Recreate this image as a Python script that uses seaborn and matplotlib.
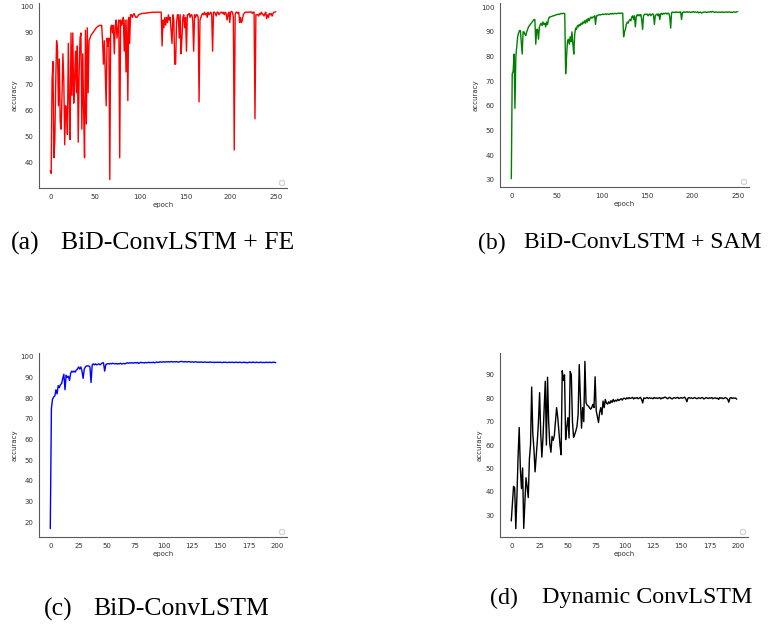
import numpy as np
import pandas as pd
import matplotlib
matplotlib.use("Agg")
import matplotlib.pyplot as plt
from matplotlib.ticker import MultipleLocator
import seaborn as sns

# ---------------- data (accuracy per epoch) ----------------
acc_fe = [
    37, 36, 72, 79, 42, 48, 70, 87, 84, 62,
    80, 56, 53, 66, 82, 72, 47, 62, 61, 51,
    86, 64, 49, 90, 66, 90, 63, 72, 83, 67,
    85, 48, 74, 88, 90, 53, 82, 60, 42, 91,
    55, 92, 67, 87, 88, 89, 89.5, 90, 90.5, 91,
    91.5, 92, 92.3, 92.6, 92.8, 93, 92.8, 93, 87, 78,
    87, 74, 62, 88, 85, 88, 33.6, 92, 93, 90,
    93, 82, 92, 95, 88, 92, 95, 42, 95, 93,
    94, 96, 83, 95, 75, 95, 64, 96, 86, 97,
    97, 96, 97, 97.5, 96.5, 96, 96, 96.5, 97, 97.2,
    97.3, 97.4, 97.5, 97.5, 97.6, 97.5, 97.7, 97.6, 97.8, 97.8,
    97.8, 97.9, 97.9, 98, 98, 98, 97.9, 98, 98, 98,
    98, 98, 98, 98, 85, 95, 92, 96, 93, 96,
    94, 97, 95, 96, 91, 86, 97, 95, 78, 78,
    94, 97, 97, 88, 97, 82, 88, 96, 97, 92,
    96, 83, 97, 97, 97.5, 96, 97, 97, 95, 83,
    97, 96, 97, 97, 96, 63.5, 95, 96, 97, 97.5,
    97, 98, 97, 97.5, 96, 98, 97, 97.5, 98, 97,
    83, 98, 98, 97.5, 96.5, 98, 98, 97, 97.5, 98,
    98, 97.5, 98, 97, 98, 97.5, 95, 97, 98, 94,
    98, 98.3, 98, 96, 45, 97, 98, 98, 97.5, 98,
    94, 96, 94, 95, 97, 97.5, 98, 98, 98, 98,
    98, 98, 98.2, 98, 97.5, 98, 98, 57, 97, 97,
    97, 96.5, 97.5, 97, 98, 97.5, 97, 96.5, 97.5, 98,
    95.5, 97, 96, 97.5, 97, 97.5, 96.5, 97.5, 98, 98,
    98.2,
]

acc_sam = [
    30.5, 73, 74, 81, 59, 80, 84, 88, 89.5, 90.5,
    90.5, 86, 81, 90, 90, 89, 88.5, 90, 91, 92,
    92.5, 93, 93.5, 94, 94.5, 95, 95, 85, 91, 91,
    87, 92, 93, 93.5, 92.5, 94, 93, 93.5, 92, 94,
    93, 95, 96, 96, 96.2, 96.3, 96.5, 96.5, 96.7, 96.8,
    97, 97, 97.2, 97, 97.3, 97.5, 97.3, 97.5, 97.5, 97.4,
    73, 80, 86, 87, 85, 88, 86, 90, 85, 81,
    89, 91.5, 91, 92.5, 92, 93, 92.5, 93.5, 93, 94,
    93.5, 94.5, 93.5, 95, 94, 95.5, 94.5, 95.5, 96, 95.5,
    96, 96, 96.5, 93, 96.5, 96.5, 96.8, 97, 96.8, 97,
    97, 97.2, 97, 97.2, 97.3, 97, 97.3, 97.2, 97, 97.3,
    97.4, 97.2, 97.5, 97.3, 97.4, 97.5, 97.3, 97.5, 97.5, 97.6,
    97.4, 97.6, 97.5, 97.6, 88, 90, 91, 93, 94, 93.5,
    94.5, 95, 94.5, 96, 96.5, 95, 96.5, 92, 96, 97,
    96.5, 97, 96.5, 97, 95, 91, 96.5, 97, 97.2, 97,
    97.2, 96.5, 97, 97.3, 96.5, 97, 97.3, 97, 93, 96.5,
    97, 97.2, 96.5, 97.3, 95, 97.3, 97.5, 97, 97.5, 97.3,
    97.6, 97.5, 97.2, 97.6, 97.5, 96, 91.5, 97.8, 98, 97.8,
    98, 97.8, 98.1, 97.9, 98, 97.8, 98, 98.1, 95, 97.8,
    98, 98.1, 97.9, 98, 98.2, 97.9, 98, 98.1, 97.8, 98,
    98, 98.2, 97.9, 98.1, 98, 97.9, 98.1, 97.7, 97.9, 98,
    97.6, 97.8, 98, 97.9, 98.1, 98, 97.8, 98, 98.1, 98,
    98.2, 98, 98.3, 98.1, 98, 97.9, 98.1, 98, 97.8, 98,
    98, 97.9, 98, 98.1, 97.8, 98, 97.9, 98, 98.1, 97.9,
    98, 98.1, 97.9, 98, 97.8, 98, 98.1, 97.9, 98, 98.1,
    98.2,
]

acc_bid = [
    17, 75, 79.5, 80.5, 81, 84, 82, 86, 85, 86.5,
    87, 89.5, 91.5, 84, 91, 90, 90.5, 88.5, 92, 93,
    92.5, 93, 92.5, 93.5, 94, 95, 94, 95, 93, 89.5,
    94, 95, 95.5, 95.5, 95.5, 95, 87.5, 96, 96.5, 96,
    96.5, 96, 96.3, 96.5, 96, 96.5, 97, 97, 93, 96,
    96.5, 96.6, 96.4, 96.7, 96.5, 96.8, 96.6, 96.5, 96.7, 96.4,
    96.6, 96.5, 96.8, 96.4, 96.6, 96.7, 96.5, 96.8, 97, 96.8,
    97, 96.9, 97.1, 96.8, 97, 97.1, 96.9, 97.2, 96.7, 97,
    97.3, 97, 97.1, 96.9, 97.2, 97, 97.1, 97.3, 97, 97.2,
    97.1, 97.3, 97, 97.2, 97.4, 97.2, 97.3, 97.5, 97.3, 97.4,
    97.5, 97.3, 97.5, 97.4, 97.6, 97.4, 97.5, 97.6, 97.4, 97.5,
    97.4, 97.6, 97.5, 97.3, 97.5, 97.6, 97.7, 97.5, 97.4, 97.6,
    97.5, 97.4, 97.6, 97.5, 97.3, 97.5, 97.4, 97.3, 97.5, 97.4,
    97.3, 97.4, 97.2, 97.4, 97.3, 97.2, 97.4, 97.3, 97.2, 97.3,
    97.2, 97.4, 97.3, 97.2, 97.3, 97.1, 97.3, 97.2, 97.3, 97.2,
    97.3, 97.2, 97.1, 97.3, 97.2, 97.3, 97.1, 97.2, 97.3, 97.2,
    97.2, 97.3, 97.1, 97.2, 97.3, 97.2, 97.1, 97.3, 97.2, 97.1,
    97.2, 97.3, 97.1, 97.2, 97.0, 97.2, 97.3, 97.2, 97.1, 97.4,
    97.2, 97.1, 97.3, 97.2, 97.1, 97.2, 97.3, 97.1, 97.2, 97.1,
    97.2, 97.3, 97.1, 97.2, 97.3, 97.1, 97.2, 97.3, 97.2, 97.1,
]

acc_dyn = [
    27.5, 35, 42.3, 41.7, 24.2, 38, 55, 67.5, 50, 41.3,
    50.2, 24.3, 35, 46, 42, 37.5, 54, 60, 84.8, 65,
    58.3, 48.5, 55, 61.8, 70, 82.4, 65, 54.8, 63.3, 75,
    87.3, 60, 89, 70, 60.4, 56.9, 63.7, 62, 64, 70,
    76, 72, 66, 60, 55.8, 91.8, 87.6, 90, 62.3, 67.8,
    71.7, 63, 91.5, 90, 70, 63.3, 64.5, 66, 68, 73,
    94.4, 80, 67.2, 76, 70, 95.8, 78.1, 77, 76.7, 76,
    75.3, 76, 77.4, 76, 89.2, 74.6, 72, 69.6, 74, 76,
    73, 78.8, 76, 79.5, 78, 77.5, 78.5, 77.8, 79, 78.2,
    79.5, 78.5, 79.2, 78.8, 79.6, 79, 79.5, 79.8, 79.2, 80,
    80, 79.6, 80.2, 79.8, 80.3, 79.9, 80.1, 80.4, 79.7, 80.2,
    80, 80.3, 79.8, 80.1, 80.4, 79.5, 78, 80.2, 79.9, 80.1,
    80.3, 79.9, 80.2, 80, 80.1, 79.8, 80.3, 80, 80.2, 79.9,
    80.1, 80.3, 79.7, 80.2, 80, 80.4, 80.5, 80.1, 79.8, 80.2,
    80.4, 80, 79.7, 80.1, 80.3, 80, 80.2, 80.4, 79.9, 80.1,
    80.3, 80, 80.2, 80.5, 79.8, 78.5, 80.1, 80.3, 80, 80.2,
    79.9, 80.1, 80.3, 80, 79.8, 80.2, 80.1, 79.9, 80.3, 80.2,
    79.7, 80, 80.3, 80.1, 79.9, 80.2, 80, 80.3, 79.8, 80.1,
    80.2, 79.9, 80.1, 79.5, 80.3, 80, 80.2, 79.8, 80.1, 80.3,
    80, 79.6, 78.3, 80.1, 80.3, 79.9, 80.2, 80, 80.1, 79.6,
]

series = [acc_fe, acc_sam, acc_bid, acc_dyn]
colors = ["red", "green", "blue", "black"]
xsteps = [50, 50, 25, 25]
tags = ["(a)", "(b)", "(c)", "(d)"]
captions = ["BiD-ConvLSTM + FE", "BiD-ConvLSTM + SAM", "BiD-ConvLSTM", "Dynamic ConvLSTM"]

# ---------------- figure ----------------
sns.set_style("white")
plt.rcParams["font.family"] = ["DejaVu Sans"]

W, H = 768, 629
fig = plt.figure(figsize=(W / 100, H / 100), dpi=100)

# axes boxes in pixels: left, top, right, bottom
boxes = [(39, 3, 287, 188), (500, 3, 749, 187), (39, 353, 287, 537), (500, 353, 748, 537)]

tick_col = "#333333"
for acc, col, xs, (l, t, r, b) in zip(series, colors, xsteps, boxes):
    ax = fig.add_axes([l / W, 1 - b / H, (r - l) / W, (b - t) / H])
    df = pd.DataFrame({"epoch": np.arange(len(acc)), "accuracy": acc})
    sns.lineplot(data=df, x="epoch", y="accuracy", ax=ax, color=col, linewidth=1.0)
    ax.xaxis.set_major_locator(MultipleLocator(xs))
    ax.yaxis.set_major_locator(MultipleLocator(10))
    sns.despine(ax=ax)
    for s in ("left", "bottom"):
        ax.spines[s].set_color("#5a5a5a")
        ax.spines[s].set_linewidth(0.8)
    ax.tick_params(axis="both", labelsize=5, length=2.5, width=0.6, pad=1.5,
                   colors="#5a5a5a", labelcolor=tick_col, direction="out")
    ax.set_xlabel("epoch", fontsize=5, labelpad=1.5, color=tick_col)
    ax.set_ylabel("accuracy", fontsize=5, labelpad=2, color=tick_col)
    leg = ax.legend(handles=[], loc="lower right", fontsize=5, borderpad=0.3)

# captions
serif = ["Liberation Serif", "DejaVu Serif"]
cap_pos = [(11, 61, 243), (478, 524, 243), (44, 93, 609), (490, 542, 598)]
cap_size = [18.5, 17.0, 18.5, 17.3]
for tag, txt, (xt, xc, yc), fs in zip(tags, captions, cap_pos, cap_size):
    fig.text(xt / W, 1 - yc / H, tag, fontsize=fs, family=serif, color="black",
             va="center", ha="left")
    fig.text(xc / W, 1 - yc / H, txt, fontsize=fs, family=serif, color="black",
             va="center", ha="left")

fig.savefig("out.png", dpi=100, facecolor="white")
